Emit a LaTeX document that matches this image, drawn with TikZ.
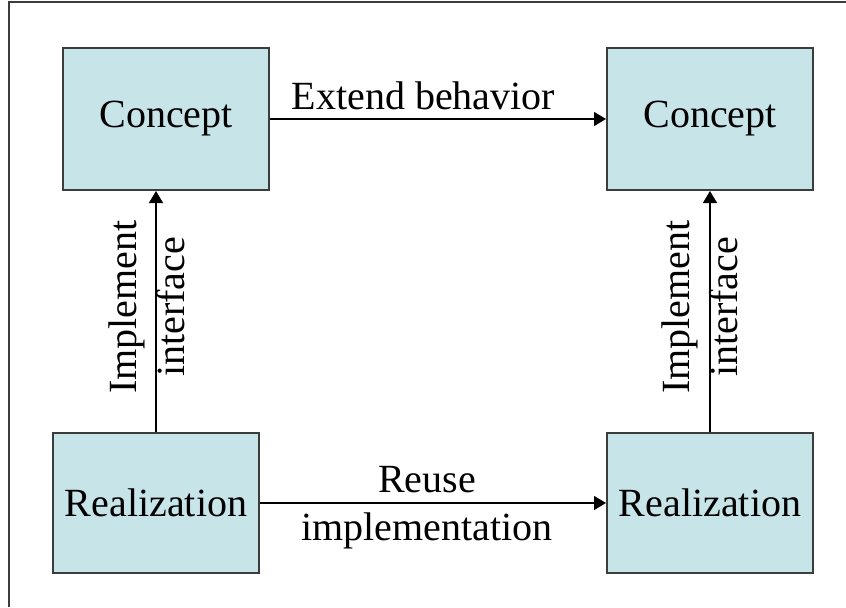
\documentclass[tikz,border=0pt]{standalone}
\usepackage{fontspec}
\setmainfont{Liberation Serif}
\usepackage{tikz}
\usetikzlibrary{arrows.meta, positioning}
\definecolor{boxcyan}{RGB}{199, 228, 232}
\definecolor{framegray}{RGB}{60, 60, 60}

\begin{document}
\begin{tikzpicture}[x=0.75pt, y=-0.75pt, font=\fontsize{30}{36}\selectfont,
	box/.style={draw=framegray, line width=1.5pt, fill=boxcyan, minimum width=154.5pt, minimum height=106.5pt, inner sep=0pt},
	link/.style={-{Triangle[length=9pt,width=10.5pt]}, line width=1.1pt},
	lbl/.style={inner sep=0pt}]
	\useasboundingbox (0,0) rectangle (846,607);
	\draw [framegray, line width=1.5pt] (9,607) -- (9,2) -- (846,2);

	% the four boxes
	\node [box] (conceptL) at (166,119) {Concept};
	\node [box] (conceptR) at (710,119) {Concept};
	\node [box, minimum height=105pt] (realL) at (156,503) {Realization};
	\node [box, minimum height=105pt] (realR) at (710,503) {Realization};

	\draw [link] (conceptL) -- (conceptR);
	\draw [link] (realL) -- (realR);
	\draw [link] (realL.north) -- (realL.north |- conceptL.south);
	\draw [link] (realR) -- (conceptR);

	\node [lbl, anchor=base] (extendlbl) at (423.5,109) {Extend behavior};
	\node [lbl, align=center] (reuselbl) at (427,508) {Reuse\\implementation};
	\node [lbl, align=center, rotate=90] (implL) at (147.3,307) {Implement\\interface};
	\node [lbl, align=center, rotate=90] (implR) at (700.3,307) {Implement\\interface};
\end{tikzpicture}
\end{document}
